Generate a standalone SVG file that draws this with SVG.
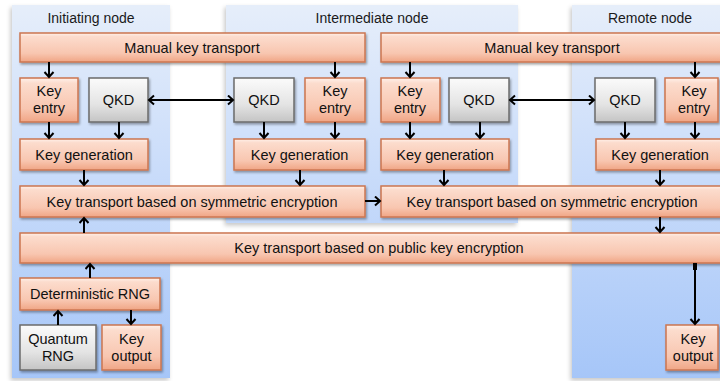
<svg xmlns="http://www.w3.org/2000/svg" width="720" height="381" viewBox="0 0 720 381">
  <defs>
    <linearGradient id="panelFill" gradientUnits="userSpaceOnUse" x1="0" y1="5" x2="0" y2="378">
      <stop offset="0" stop-color="#e6eefa"/>
      <stop offset="0.5" stop-color="#c6dafa"/>
      <stop offset="1" stop-color="#a6c6f8"/>
    </linearGradient>
    <linearGradient id="salmon" x1="0" y1="0" x2="0" y2="1">
      <stop offset="0" stop-color="#fff1ea"/>
      <stop offset="0.12" stop-color="#fcdccd"/>
      <stop offset="0.7" stop-color="#f8c6b0"/>
      <stop offset="1" stop-color="#f0a585"/>
    </linearGradient>
    <linearGradient id="grey" x1="0" y1="0" x2="0" y2="1">
      <stop offset="0" stop-color="#fbfbfb"/>
      <stop offset="0.6" stop-color="#e4e4e4"/>
      <stop offset="1" stop-color="#c4c4c4"/>
    </linearGradient>
    <filter id="boxShadow" x="-10%" y="-20%" width="130%" height="150%">
      <feDropShadow dx="1.2" dy="1.8" stdDeviation="1" flood-color="#000" flood-opacity="0.35"/>
    </filter>
    <filter id="panelShadow" x="-5%" y="-5%" width="115%" height="115%">
      <feDropShadow dx="-1.5" dy="2.5" stdDeviation="2" flood-color="#000" flood-opacity="0.22"/>
    </filter>
    <marker id="arrow" markerUnits="userSpaceOnUse" markerWidth="12" markerHeight="12" refX="6.5" refY="5.5" orient="auto-start-reverse">
      <path d="M1.5,1 L6.5,5.5 L1.5,10" fill="none" stroke="#000" stroke-width="2"/>
    </marker>
    <style>
      .panel { fill: url(#panelFill); filter: url(#panelShadow); }
      .title { font-family: "Liberation Sans", Arial, sans-serif; font-size: 14px; fill: #1a1a1a; text-anchor: middle; }
      .lbl { font-family: "Liberation Sans", Arial, sans-serif; font-size: 14.5px; fill: #111; text-anchor: middle; }
      .box { fill: url(#salmon); stroke: #cc7650; stroke-width: 1.5; filter: url(#boxShadow); }
      .gbox { fill: url(#grey); stroke: #6b6b6b; stroke-width: 1.5; filter: url(#boxShadow); }
      .conn { stroke: #000; stroke-width: 2; fill: none; marker-end: url(#arrow); }
      .both { marker-start: url(#arrow); }
    </style>
  </defs>

  <!-- node columns -->
  <g id="panel-initiating">
    <rect class="panel" x="12" y="5" width="158" height="373"/>
    <text class="title" x="91" y="23">Initiating node</text>
  </g>
  <g id="panel-intermediate">
    <rect class="panel" x="226" y="5" width="292" height="218"/>
    <text class="title" x="372" y="23">Intermediate node</text>
  </g>
  <g id="panel-remote">
    <rect class="panel" x="572" y="5" width="160" height="373"/>
    <text class="title" x="650" y="23">Remote node</text>
  </g>

  <!-- manual key transport -->
  <g id="manual-1">
    <rect class="box" x="20" y="33" width="345" height="29"/>
    <text class="lbl" x="192" y="53">Manual key transport</text>
  </g>
  <g id="manual-2">
    <rect class="box" x="381" y="33" width="345" height="29"/>
    <text class="lbl" x="552" y="53">Manual key transport</text>
  </g>

  <!-- key entry / QKD row -->
  <g id="entry-a">
    <rect class="box" x="20" y="78" width="58" height="44"/>
    <text class="lbl" x="49" y="96">Key</text>
    <text class="lbl" x="49" y="113">entry</text>
  </g>
  <g id="qkd-a">
    <rect class="gbox" x="89" y="78" width="59" height="44"/>
    <text class="lbl" x="118.5" y="105">QKD</text>
  </g>
  <g id="qkd-b">
    <rect class="gbox" x="234" y="78" width="60" height="44"/>
    <text class="lbl" x="264" y="105">QKD</text>
  </g>
  <g id="entry-b">
    <rect class="box" x="305" y="78" width="60" height="44"/>
    <text class="lbl" x="335" y="96">Key</text>
    <text class="lbl" x="335" y="113">entry</text>
  </g>
  <g id="entry-c">
    <rect class="box" x="381" y="78" width="59" height="44"/>
    <text class="lbl" x="410" y="96">Key</text>
    <text class="lbl" x="410" y="113">entry</text>
  </g>
  <g id="qkd-c">
    <rect class="gbox" x="449" y="78" width="60" height="44"/>
    <text class="lbl" x="479" y="105">QKD</text>
  </g>
  <g id="qkd-d">
    <rect class="gbox" x="595" y="78" width="60" height="44"/>
    <text class="lbl" x="625" y="105">QKD</text>
  </g>
  <g id="entry-d">
    <rect class="box" x="665" y="78" width="53" height="44"/>
    <text class="lbl" x="694" y="96">Key</text>
    <text class="lbl" x="694" y="113">entry</text>
  </g>

  <!-- key generation row -->
  <g id="keygen-a">
    <rect class="box" x="20" y="139" width="128" height="31"/>
    <text class="lbl" x="84" y="160">Key generation</text>
  </g>
  <g id="keygen-b">
    <rect class="box" x="234" y="139" width="131" height="31"/>
    <text class="lbl" x="299.5" y="160">Key generation</text>
  </g>
  <g id="keygen-c">
    <rect class="box" x="381" y="139" width="128" height="31"/>
    <text class="lbl" x="445" y="160">Key generation</text>
  </g>
  <g id="keygen-d">
    <rect class="box" x="596" y="139" width="128" height="31"/>
    <text class="lbl" x="660" y="160">Key generation</text>
  </g>

  <!-- symmetric key transport -->
  <g id="sym-1">
    <rect class="box" x="20" y="186" width="345" height="31"/>
    <text class="lbl" x="192" y="207">Key transport based on symmetric encryption</text>
  </g>
  <g id="sym-2">
    <rect class="box" x="381" y="186" width="345" height="31"/>
    <text class="lbl" x="552" y="207">Key transport based on symmetric encryption</text>
  </g>

  <!-- public key transport -->
  <g id="pubkey">
    <rect class="box" x="20" y="233" width="720" height="30"/>
    <text class="lbl" x="379" y="253">Key transport based on public key encryption</text>
  </g>

  <!-- random number generation -->
  <g id="drng">
    <rect class="box" x="20" y="278" width="140" height="32"/>
    <text class="lbl" x="90" y="299">Deterministic RNG</text>
  </g>
  <g id="qrng">
    <rect class="gbox" x="20" y="325" width="76" height="45"/>
    <text class="lbl" x="58" y="344">Quantum</text>
    <text class="lbl" x="58" y="361">RNG</text>
  </g>
  <g id="output-a">
    <rect class="box" x="102" y="325" width="59" height="45"/>
    <text class="lbl" x="131.5" y="344">Key</text>
    <text class="lbl" x="131.5" y="361">output</text>
  </g>
  <g id="output-b">
    <rect class="box" x="666" y="325" width="52" height="45"/>
    <text class="lbl" x="693" y="344">Key</text>
    <text class="lbl" x="693" y="361">output</text>
  </g>

  <!-- connectors -->
  <g id="connectors">
    <line class="conn" x1="49" y1="62" x2="49" y2="77"/>
    <line class="conn" x1="335" y1="62" x2="335" y2="77"/>
    <line class="conn" x1="410" y1="62" x2="410" y2="77"/>
    <line class="conn" x1="695" y1="62" x2="695" y2="77"/>

    <line class="conn both" x1="149" y1="100" x2="233" y2="100"/>
    <line class="conn both" x1="510" y1="100" x2="594" y2="100"/>

    <line class="conn" x1="49" y1="122" x2="49" y2="138"/>
    <line class="conn" x1="119" y1="122" x2="119" y2="138"/>
    <line class="conn" x1="264" y1="122" x2="264" y2="138"/>
    <line class="conn" x1="335" y1="122" x2="335" y2="138"/>
    <line class="conn" x1="410" y1="122" x2="410" y2="138"/>
    <line class="conn" x1="480" y1="122" x2="480" y2="138"/>
    <line class="conn" x1="625" y1="122" x2="625" y2="138"/>
    <line class="conn" x1="695" y1="122" x2="695" y2="138"/>

    <line class="conn" x1="84" y1="170" x2="84" y2="185"/>
    <line class="conn" x1="300" y1="170" x2="300" y2="185"/>
    <line class="conn" x1="444" y1="170" x2="444" y2="185"/>
    <line class="conn" x1="660" y1="170" x2="660" y2="185"/>

    <line class="conn" x1="365" y1="201" x2="380" y2="201"/>

    <line class="conn" x1="84" y1="233" x2="84" y2="218"/>
    <line class="conn" x1="660" y1="217" x2="660" y2="232"/>

    <line class="conn" x1="90" y1="278" x2="90" y2="264"/>
    <line class="conn" x1="58" y1="325" x2="58" y2="311"/>
    <line class="conn" x1="131" y1="310" x2="131" y2="324"/>

    <rect x="693" y="263" width="4" height="7" fill="#000"/>
    <line class="conn" x1="695" y1="264" x2="695" y2="324"/>
  </g>
</svg>
